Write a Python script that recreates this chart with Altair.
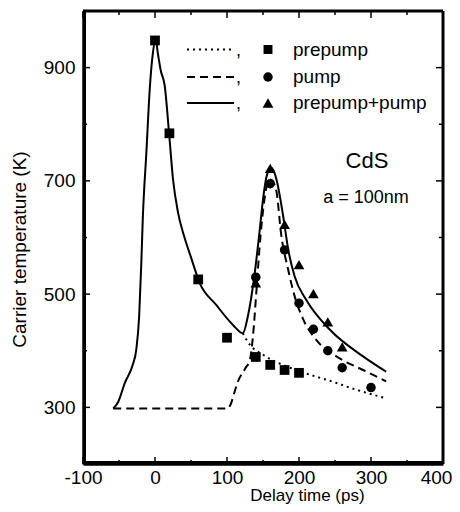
import altair as alt
import pandas as pd

# ---- data ----
solid_x = [-58, -51, -42, -31, -26, -22, -19, -17, -12, -7, -3, 1, 4, 8, 13.5, 19.5, 25, 32, 41, 50, 62, 85, 108, 122, 129, 138.5, 145, 150, 155, 161.6, 168.6, 178, 185, 194, 210, 243, 289, 321]
solid_y = [298, 310, 343, 375, 402, 461, 555, 632, 750, 868, 925, 950, 925, 895, 868, 785, 703, 644, 600, 565, 520, 481, 446, 431, 461, 537, 608, 667, 708, 723, 703, 638, 579, 531, 490, 437, 390, 363]

dash_x = [-58, 100, 105, 110, 115, 125, 132, 136, 141, 145, 152, 159, 163, 169, 175, 185, 194, 206, 224, 252, 289, 321]
dash_y = [298, 298, 305, 325, 345, 368, 385, 425, 508, 579, 667, 703, 700, 679, 608, 543, 496, 455, 419, 390, 366, 346]

dot_x = [122, 131.5, 150, 196, 245, 280, 321]
dot_y = [431, 411, 393, 366, 346, 331, 316]

sq_x = [0, 20, 60, 100, 140, 160, 180, 200]
sq_y = [948, 784, 526, 423, 389, 375, 366, 361]

ci_x = [140, 160, 180, 200, 220, 240, 260, 300]
ci_y = [530, 695, 578, 484, 438, 400, 370, 335]

tr_x = [140, 160, 180, 200, 220, 240, 260]
tr_y = [520, 722, 623, 552, 501, 451, 407]

x_major = [-100, 0, 100, 200, 300, 400]
x_minor = [-50, 50, 150, 250, 350]
y_major = [300, 500, 700, 900]
y_minor = [400, 600, 800]

legend_labels = ["prepump", "pump", "prepump+pump"]

W, H = 360, 453
FONT = "Liberation Sans"
LBL = "datum.value < 0 ? '-' + abs(datum.value) : datum.label"

xs = alt.Scale(domain=[-100, 400], nice=False, zero=False)
ys = alt.Scale(domain=[200, 1000], nice=False, zero=False)
xaxis = alt.Axis(values=x_major, domain=True, domainColor="black", domainWidth=2.5,
                 ticks=False, tickSize=0, grid=False,
                 labelFontSize=19, labelFont=FONT, labelColor="black", labelPadding=4,
                 labelFlush=False, labelOverlap=False, labelExpr=LBL,
                 labelOffset={"condition": {"test": "datum.value == 400", "value": -7}, "value": 0},
                 title="Delay time (ps)", titleFont=FONT, titleFontSize=17,
                 titleFontWeight="normal", titleColor="black",
                 titleX=224, titleY=36, titleAlign="center", titleBaseline="alphabetic")
yaxis = alt.Axis(values=y_major, domain=True, domainColor="black", domainWidth=2.5,
                 ticks=False, tickSize=0, grid=False,
                 labelFontSize=19, labelFont=FONT, labelColor="black", labelPadding=8,
                 labelFlush=False, labelOverlap=False,
                 title="Carrier temperature (K)", titleFont=FONT, titleFontSize=19,
                 titleFontWeight="normal", titleColor="black", titleAngle=270,
                 titleX=-58, titleY=238, titleAlign="center", titleBaseline="alphabetic")


def X(f):
    return alt.X(f, type="quantitative", scale=xs, axis=xaxis)


def Y(f):
    return alt.Y(f, type="quantitative", scale=ys, axis=yaxis)


one = pd.DataFrame({"a": [0]})

solid = alt.Chart(pd.DataFrame({"x": solid_x, "y": solid_y})).mark_line(
    color="black", strokeWidth=2, interpolate="monotone").encode(x=X("x"), y=Y("y"))
dashed = alt.Chart(pd.DataFrame({"x": dash_x, "y": dash_y})).mark_line(
    color="black", strokeWidth=2, strokeDash=[8, 5], interpolate="monotone").encode(x=X("x"), y=Y("y"))
dotted = alt.Chart(pd.DataFrame({"x": dot_x, "y": dot_y})).mark_line(
    color="black", strokeWidth=2, strokeDash=[2, 4], interpolate="monotone").encode(x=X("x"), y=Y("y"))

squares = alt.Chart(pd.DataFrame({"x": sq_x, "y": sq_y})).mark_point(
    shape="square", filled=True, color="black", size=95, opacity=1).encode(x=X("x"), y=Y("y"))
circles = alt.Chart(pd.DataFrame({"x": ci_x, "y": ci_y})).mark_point(
    shape="circle", filled=True, color="black", size=90, opacity=1).encode(x=X("x"), y=Y("y"))
triangles = alt.Chart(pd.DataFrame({"x": tr_x, "y": tr_y})).mark_point(
    shape="triangle-up", filled=True, color="black", size=115, opacity=1).encode(x=X("x"), y=Y("y"))

layers = [solid, dashed, dotted, squares, circles, triangles]
# axis ticks (inward, mirrored)
for vals, ln in ((x_major, 7), (x_minor, 4)):
    df = pd.DataFrame({"v": vals})
    layers.append(alt.Chart(df).mark_rule(color="black", strokeWidth=1.5).encode(
        x=X("v"), y=alt.value(H), y2=alt.value(H - ln)))
    layers.append(alt.Chart(df).mark_rule(color="black", strokeWidth=1.5).encode(
        x=X("v"), y=alt.value(0), y2=alt.value(ln)))
for vals, ln in ((y_major, 7), (y_minor, 4)):
    df = pd.DataFrame({"v": vals})
    layers.append(alt.Chart(df).mark_rule(color="black", strokeWidth=1.5).encode(
        y=Y("v"), x=alt.value(0), x2=alt.value(ln)))
    layers.append(alt.Chart(df).mark_rule(color="black", strokeWidth=1.5).encode(
        y=Y("v"), x=alt.value(W), x2=alt.value(W - ln)))

# legend (inside the plot, top)
dashes = [[2, 4], [8, 5], []]
shapes = ["square", "circle", "triangle-up"]
sizes = [80, 90, 115]
rows = [38.5, 66, 92]
for lab, dsh, shp, sz, ry in zip(legend_labels, dashes, shapes, sizes, rows):
    kw = dict(color="black", strokeWidth=2)
    if dsh:
        kw["strokeDash"] = dsh
    layers.append(alt.Chart(one).mark_rule(**kw).encode(
        x=alt.value(104), x2=alt.value(151), y=alt.value(ry)))
    layers.append(alt.Chart(one).mark_text(text=",", font=FONT, fontSize=18, color="black",
                                           align="left", baseline="alphabetic").encode(
        x=alt.value(153), y=alt.value(ry + 6)))
    layers.append(alt.Chart(one).mark_point(shape=shp, filled=True, color="black", size=sz,
                                            opacity=1).encode(
        x=alt.value(185), y=alt.value(ry)))
    layers.append(alt.Chart(pd.DataFrame({"t": [lab]})).mark_text(
        font=FONT, fontSize=19, color="black", align="left", baseline="alphabetic").encode(
        text="t:N", x=alt.value(210), y=alt.value(ry + 6)))

layers.append(alt.Chart(pd.DataFrame({"t": ["CdS"]})).mark_text(
    font=FONT, fontSize=22, color="black", align="center", baseline="alphabetic").encode(
    text="t:N", x=alt.value(284), y=alt.value(157)))
layers.append(alt.Chart(pd.DataFrame({"t": ["a = 100nm"]})).mark_text(
    font=FONT, fontSize=18, color="black", align="center", baseline="alphabetic").encode(
    text="t:N", x=alt.value(283), y=alt.value(192)))

# plot frame, drawn last
edge = dict(color="black", strokeWidth=3)
layers += [
    alt.Chart(one).mark_rule(**edge).encode(x=alt.value(1.5), y=alt.value(0), y2=alt.value(H)),
    alt.Chart(one).mark_rule(**edge).encode(x=alt.value(W), y=alt.value(0), y2=alt.value(H)),
    alt.Chart(one).mark_rule(**edge).encode(y=alt.value(0), x=alt.value(0), x2=alt.value(W)),
    alt.Chart(one).mark_rule(**edge).encode(y=alt.value(H - 1.5), x=alt.value(0), x2=alt.value(W)),
]

chart = alt.layer(*layers).properties(
    width=W, height=H,
    padding={"left": 75, "top": 3, "right": 9, "bottom": 40},
    autosize=alt.AutoSizeParams(type="none"),
).configure_view(stroke="black", strokeWidth=2).configure(background="white")

chart.save("out.html", embed_options={"renderer": "svg", "actions": False})
